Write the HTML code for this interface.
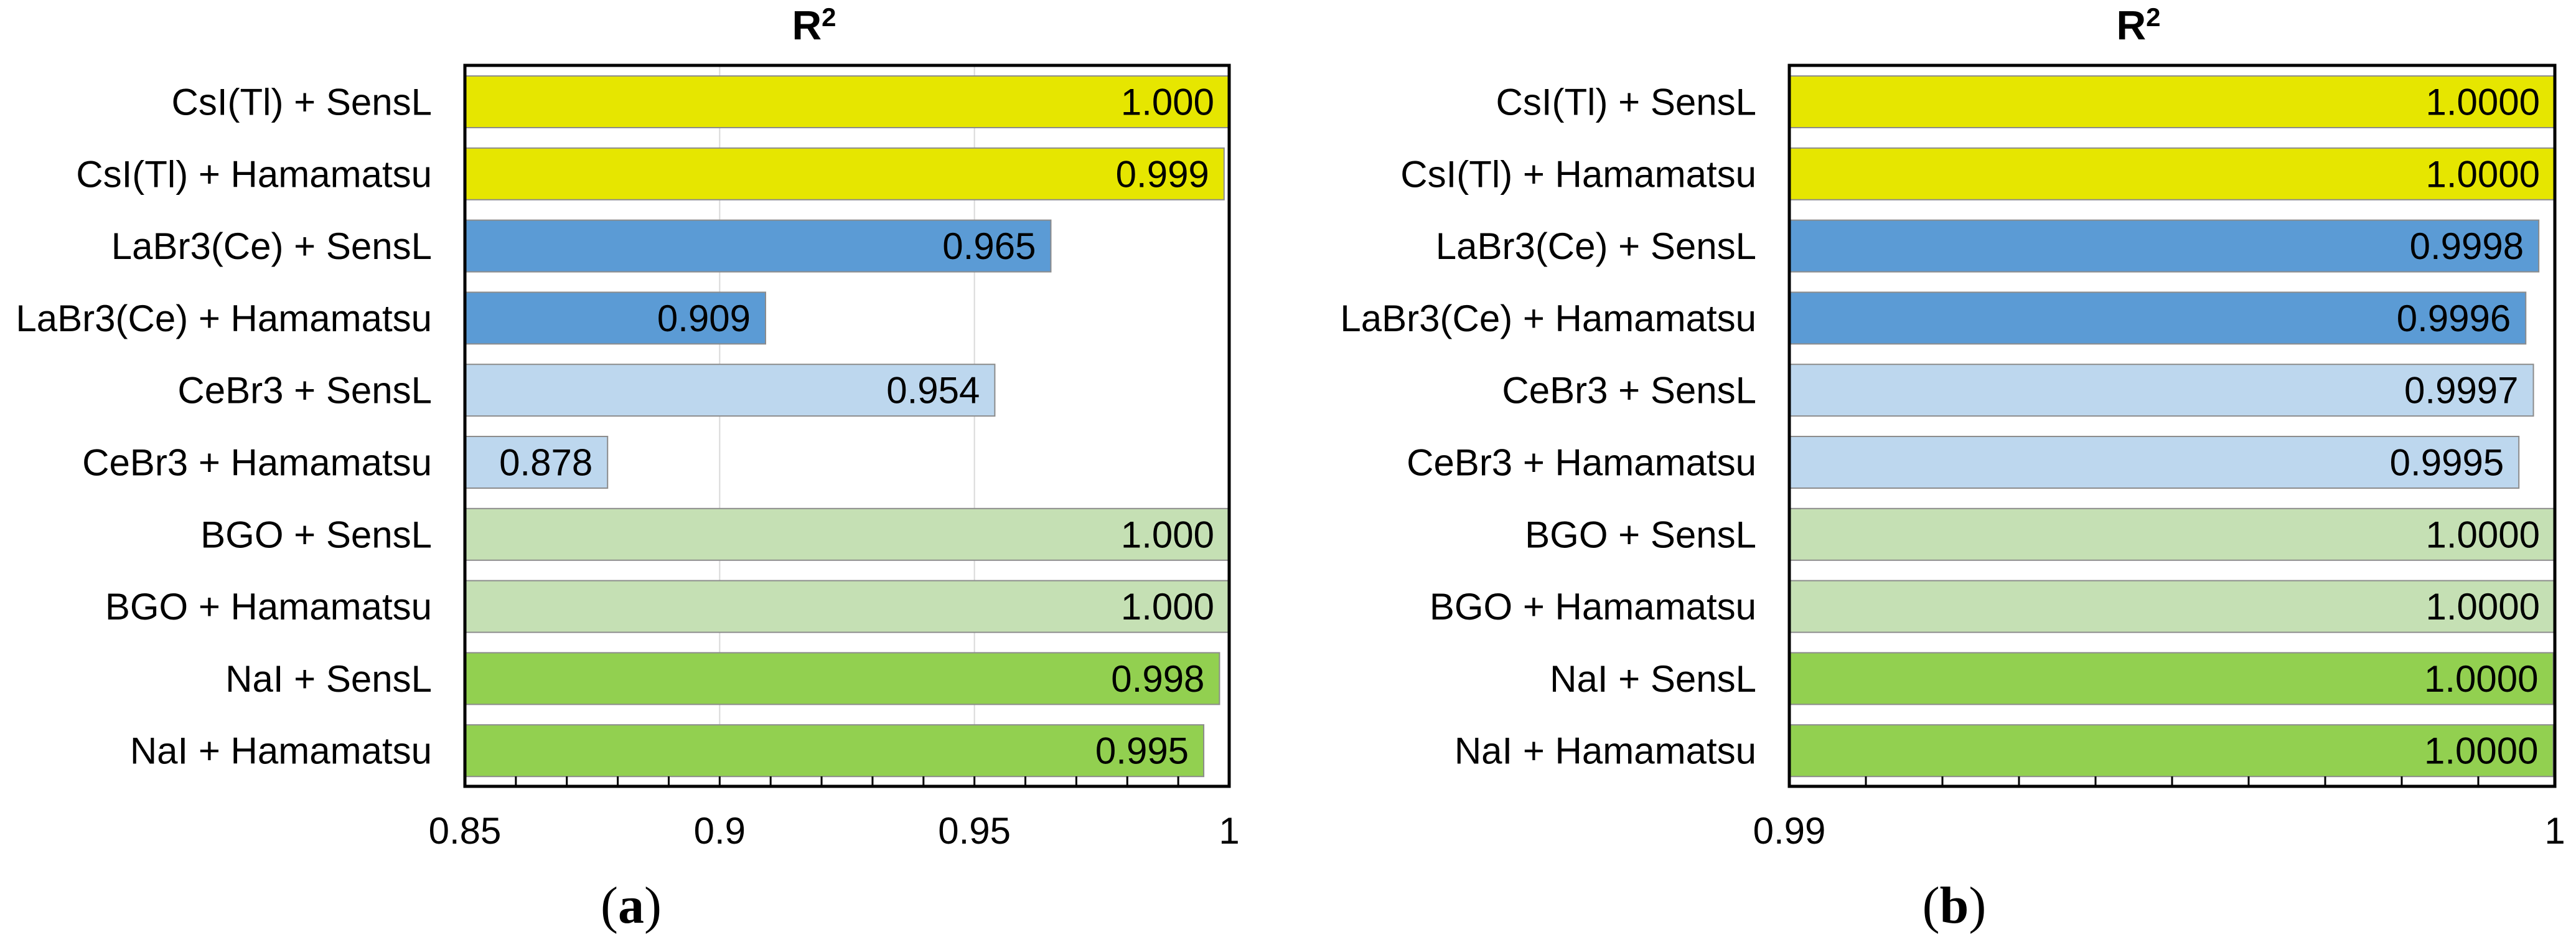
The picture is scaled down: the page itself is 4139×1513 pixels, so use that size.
<!DOCTYPE html>
<html><head><meta charset="utf-8">
<style>
html,body{margin:0;padding:0;background:#fff;}
svg{display:block;}
text{font-family:"Liberation Sans",Arial,sans-serif;}
</style></head>
<body>
<svg id="chart" width="4139" height="1513" viewBox="0 0 4139 1513" xmlns="http://www.w3.org/2000/svg"></svg>
<script>
const categories = ["CsI(Tl) + SensL","CsI(Tl) + Hamamatsu","LaBr3(Ce) + SensL","LaBr3(Ce) + Hamamatsu","CeBr3 + SensL","CeBr3 + Hamamatsu","BGO + SensL","BGO + Hamamatsu","NaI + SensL","NaI + Hamamatsu"];
const colors = ["#e6e600","#e6e600","#5b9bd5","#5b9bd5","#bdd7ee","#bdd7ee","#c5e0b4","#c5e0b4","#92d050","#92d050"];
const valuesA = [1.0,0.999,0.965,0.909,0.954,0.878,1.0,1.0,0.9981,0.995];
const labelsA = ["1.000","0.999","0.965","0.909","0.954","0.878","1.000","1.000","0.998","0.995"];
const valuesB = [1.0,1.0,0.99979,0.99962,0.99972,0.99953,1.0,1.0,0.99998,0.99998];
const labelsB = ["1.0000","1.0000","0.9998","0.9996","0.9997","0.9995","1.0000","1.0000","1.0000","1.0000"];
const ticksA = [0.85,0.9,0.95,1];
const tickLabelsA = ["0.85","0.9","0.95","1"];
const ticksB = [0.99,1];
const tickLabelsB = ["0.99","1"];

const NS="http://www.w3.org/2000/svg";
const svg=document.getElementById('chart');
function mk(tag,attrs,parent){const e=document.createElementNS(NS,tag);for(const k in attrs)e.setAttribute(k,attrs[k]);(parent||svg).appendChild(e);return e;}

function drawPanel(p){
  const g=mk('g',{});
  
  
  const top=105,bottom=1263,L=p.left,R=p.right;
  const x=v=>L+(v-p.min)/(p.max-p.min)*(R-L);
  const pitch=(bottom-top)/categories.length;
  // gridlines
  p.grid.forEach(v=>{
    const l=mk('line',{x1:x(v),x2:x(v),y1:top,y2:bottom,stroke:'#d9d9d9','stroke-width':2},g);
    
    
  });
  categories.forEach((c,i)=>{
    const y0=top+i*pitch+17, h=83;
    const v=p.values[i];
    const r=mk('rect',{x:L,y:y0,width:Math.max(0,x(v)-L),height:h,fill:colors[i],stroke:'#8c8c8c','stroke-width':2},g);
    
    
    const vt=mk('text',{x:x(v)-24,y:y0+h/2+21,'font-size':60,'text-anchor':'end',fill:'#000'},g);
    vt.textContent=p.labels[i];
    
    
    const ct=mk('text',{x:L-53,y:y0+h/2+21,'font-size':60,'text-anchor':'end',fill:'#000'},g);
    ct.textContent=c;
    
    
  });
  // minor ticks
  const n=Math.round((p.max-p.min)/p.minor);
  for(let k=1;k<n;k++){
    const v=p.min+k*p.minor;
    const t=mk('line',{x1:x(v),x2:x(v),y1:bottom-16,y2:bottom,stroke:'#000','stroke-width':3},g);
    
    
  }
  const frame=mk('rect',{x:L,y:top,width:R-L,height:bottom-top,fill:'none',stroke:'#000','stroke-width':5},g);
  
  
  p.ticks.forEach((v,i)=>{
    const t=mk('text',{x:x(v),y:1355,'font-size':60,'text-anchor':'middle',fill:'#000'},g);
    t.textContent=p.tickLabels[i];
    
    
  });
  const ti=mk('text',{x:p.titleX,y:63,'font-size':66,'font-weight':'bold','text-anchor':'middle',fill:'#000'},g);
  
  
  const ts1=mk('tspan',{},ti);ts1.textContent='R';
  const ts2=mk('tspan',{'font-size':42,dy:-21},ti);ts2.textContent='2';
  const cap=mk('text',{x:p.capX,y:1482,'font-size':84,'text-anchor':'middle',fill:'#000',style:'font-family:"Liberation Serif",serif'},g);
  
  
  const c1=mk('tspan',{},cap);c1.textContent='(';
  const c2=mk('tspan',{'font-weight':'bold'},cap);c2.textContent=p.cap;
  const c3=mk('tspan',{},cap);c3.textContent=')';
}
drawPanel({name:'panel-a',left:747,right:1975,min:0.85,max:1,minor:0.01,grid:[0.9,0.95],values:valuesA,labels:labelsA,ticks:ticksA,tickLabels:tickLabelsA,titleX:1308,capX:1014,cap:'a'});
drawPanel({name:'panel-b',left:2875,right:4105,min:0.99,max:1,minor:0.001,grid:[],values:valuesB,labels:labelsB,ticks:ticksB,tickLabels:tickLabelsB,titleX:3436,capX:3140,cap:'b'});
</script>
</body></html>
